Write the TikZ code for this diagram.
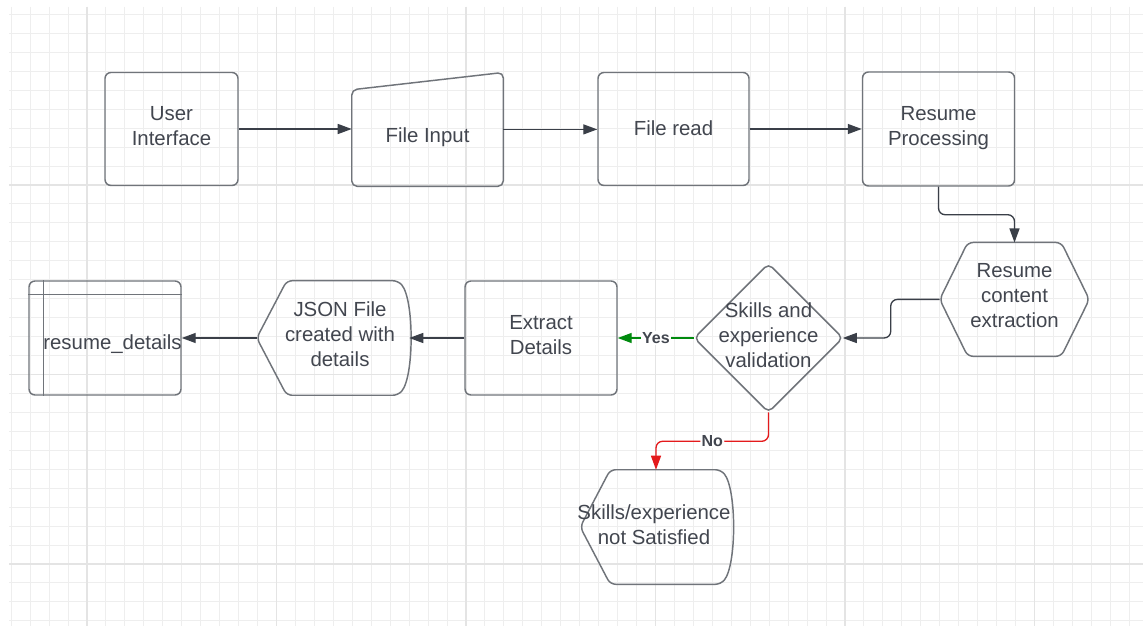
\documentclass[tikz,border=0pt]{standalone}
\usepackage{fontspec}
\setmainfont{Liberation Sans}
\usetikzlibrary{arrows.meta,calc}
\definecolor{txt}{RGB}{66,70,79}
\definecolor{edge}{RGB}{112,116,122}
\definecolor{arrc}{RGB}{58,63,72}
\definecolor{gmin}{RGB}{238,238,238}
\definecolor{gmaj}{RGB}{228,228,228}
\definecolor{yesg}{RGB}{0,138,14}
\definecolor{nored}{RGB}{228,26,28}
\begin{document}
\begin{tikzpicture}[x=0.75pt,y=-0.75pt,
  shp/.style 2 args={minimum width=#1*0.75pt, minimum height=#2*0.75pt, inner sep=0pt},
  box/.style={draw=edge, line width=1.1pt, rounded corners=4.5pt},
  shapeline/.style={draw=edge, line width=1.1pt, rounded corners=4pt},
  lbl/.style={inner sep=0pt, align=center, text=txt, font=\fontsize{15.3}{18.75}\selectfont},
  arr/.style={arrc, line width=1pt, -{Triangle[length=10.5pt,width=7.5pt]}},
  lab/.style={fill=white, inner sep=1pt, text=txt, font=\bfseries\fontsize{12}{14}\selectfont}]
\fill[white] (0,0) rectangle (1143,627);
\useasboundingbox (0,0) rectangle (1143,627);
% grid
\begin{scope}
\clip (9,7) rectangle (1143,626);
\foreach \i in {-4,...,56} {\draw[gmin, line width=0.8pt] ({87+18.95*\i},7) -- ({87+18.95*\i},626);}
\foreach \j in {-10,...,23} {\draw[gmin, line width=0.8pt] (9,{185+18.95*\j}) -- (1143,{185+18.95*\j});}
\foreach \i in {0,10,20,30,40,50} {\draw[gmaj, line width=1pt] ({87+18.95*\i},7) -- ({87+18.95*\i},626);}
\foreach \j in {-10,0,10,20} {\draw[gmaj, line width=1pt] (9,{185+18.95*\j}) -- (1143,{185+18.95*\j});}
\end{scope}
% nodes
\node[shp={133}{113}, box] (ui) at (171.5,129) {};
\node[lbl] (uit) at (171.5,126) {User\\Interface};
\node[shp={151}{113.3}] (fi) at (427.5,129.4) {};
\draw[shapeline] (fi.south west) -- ($(fi.north west)+(0,17.3)$) -- (fi.north east) -- (fi.south east) -- cycle;
\node[lbl] (fit) at (427.5,137) {File Input};
\node[shp={151}{113}, box] (fr) at (673.5,129) {};
\node[lbl] (frt) at (673.5,128) {File read};
\node[shp={152}{114}, box] (rp) at (938.5,129) {};
\node[lbl] (rpt) at (938.5,128) {Resume\\Processing};
\node[shp={149}{113.3}] (rce) at (1014.5,299.4) {};
\draw[shapeline] (rce.west) -- ($(rce.north west)+(28,0)$) -- ($(rce.north east)+(-28,0)$) -- (rce.east) -- ($(rce.south east)+(-28,0)$) -- ($(rce.south west)+(28,0)$) -- cycle;
\node[lbl] (rcet) at (1014.5,296) {Resume\\content\\extraction};
\node[shp={148}{148}] (dia) at (768.5,338) {};
\draw[shapeline] (dia.north) -- (dia.east) -- (dia.south) -- (dia.west) -- cycle;
\node[lbl] (diat) at (768.5,335) {Skills and\\experience\\validation};
\node[shp={152}{114}, box] (ed) at (541,338) {};
\node[lbl] (edt) at (541,335) {Extract\\Details};
\node[shp={152}{114}] (js) at (333,338) {};
\draw[shapeline] (js.west) -- ($(js.north west)+(30,0)$) -- ($(js.north east)+(-11,0)$) .. controls ($(js.north east)+(5,19)$) and ($(js.south east)+(5,-19)$) .. ($(js.south east)+(-11,0)$) -- ($(js.south west)+(30,0)$) -- cycle;
\node[lbl] (jst) at (340,334) {JSON File\\created with\\details};
\node[shp={152}{114}, box] (rd) at (105,338) {};
\draw[draw=edge, line width=1.1pt] ($(rd.north west)+(15,0)$) -- ($(rd.south west)+(15,0)$);
\draw[draw=edge, line width=1.1pt] ($(rd.north west)+(0,14)$) -- ($(rd.north east)+(0,14)$);
\node[lbl] (rdt) at (112.5,344) {resume\_details};
\node[shp={151}{114}] (ns) at (656,527) {};
\draw[shapeline] (ns.west) -- ($(ns.north west)+(30,0)$) -- ($(ns.north east)+(-11,0)$) .. controls ($(ns.north east)+(5,19)$) and ($(ns.south east)+(5,-19)$) .. ($(ns.south east)+(-11,0)$) -- ($(ns.south west)+(30,0)$) -- cycle;
\node[lbl] (nst) at (654,524.5) {Skills/experience\\not Satisfied};
% connectors
\draw[arr] (ui.east) -- (ui.east -| fi.west);
\draw[arr] (fi.east) -- (fi.east -| fr.west);
\draw[arr] (fr.east) -- (fr.east -| rp.west);
\draw[arr, rounded corners=5pt] (rp.south) -- ++(0,28) -| (rce.north);
\draw[arr, rounded corners=5pt] (rce.west) -- ++(-49,0) |- (dia.east);
\draw[arr, yesg] (dia.west) -- node[lab, pos=0.5] (yes) {Yes} (ed.east);
\draw[arr, nored, rounded corners=5pt] (dia.south) -- ++(0,29) -| node[lab, pos=0.25] (no) {No} (ns.north);
\draw[arr] (ed.west) -- (js.east);
\draw[arr] (js.west) -- (rd.east);
\end{tikzpicture}
\end{document}
